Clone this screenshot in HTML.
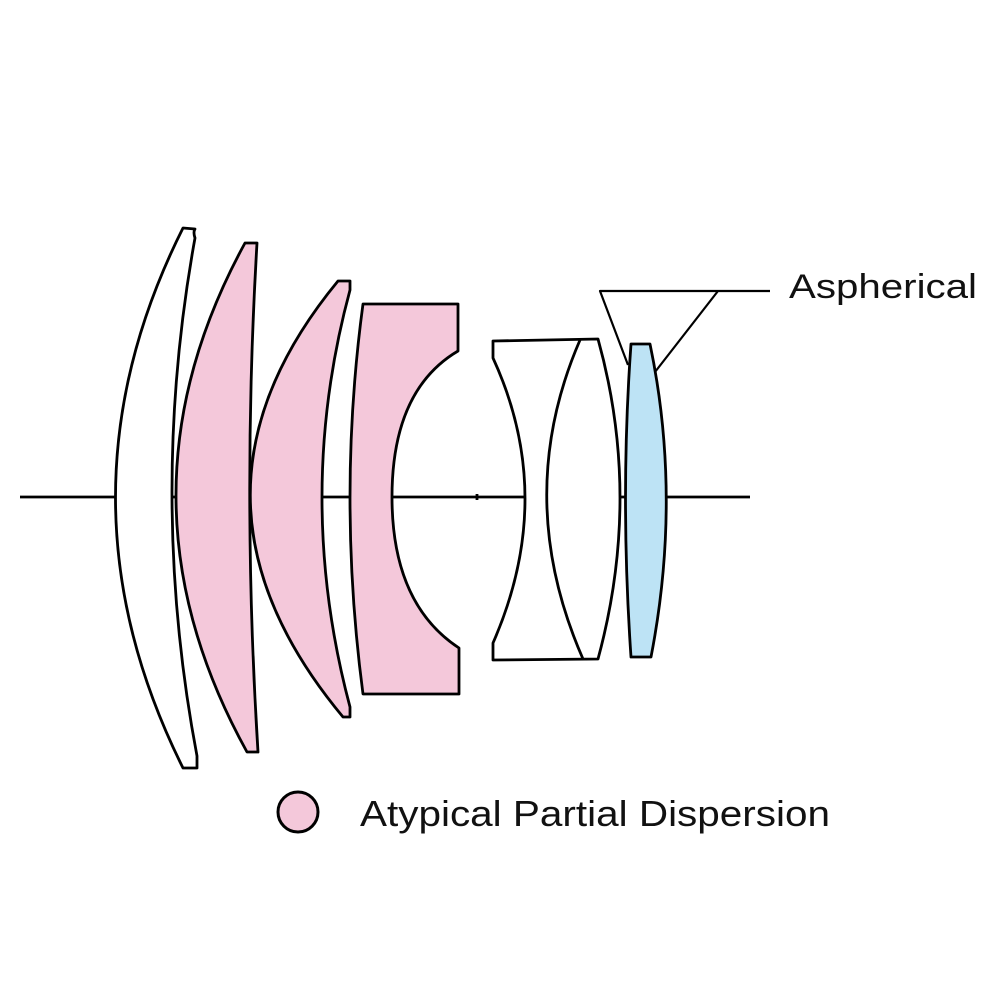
<!DOCTYPE html>
<html><head><meta charset="utf-8"><style>html,body{margin:0;padding:0;background:#fff}svg{display:block}</style></head>
<body>
<svg width="1000" height="1000" viewBox="0 0 1000 1000" xmlns="http://www.w3.org/2000/svg">
<g stroke="#000" stroke-width="2.8" stroke-linejoin="round" fill="none">
<line x1="20" y1="497" x2="750" y2="497"/>
<line x1="477" y1="494" x2="477" y2="500"/>
<!-- lens1 -->
<path fill="#fff" d="M183,228 L195,229 Q193,232 195,238 Q148,497 197,756 L197,768 L183,768 Q48,497 183,228 Z"/>
<!-- lens2 -->
<path fill="#f4c8da" d="M245,243 L257,243 Q242,497 258,752 L247,752 Q106,497 245,243 Z"/>
<!-- lens3 -->
<path fill="#f4c8da" d="M338,281 L350,281 L350,290 Q294,497 350,707 L350,717 L343,717 Q160,497 338,281 Z"/>
<!-- lens4 -->
<path fill="#f4c8da" d="M363,304 L458,304 L458,351 Q392,390 392,497 Q392,604 459,648 L459,694 L363,694 Q337,497 363,304 Z"/>
<!-- concave lens + cemented -->
<path fill="#fff" d="M493,341 L598,339 Q642,497 598,659 L493,660 L493,643 Q557,497 493,358 Z"/>
<path d="M580,340 Q512,497 583,659"/>
<!-- blue lens -->
<path fill="#bde3f5" d="M631,344 L650,344 Q682,497 651,657 L631,657 Q620,497 631,344 Z"/>
<!-- leader -->
<path d="M770,291 L600,291 L628,365 M718,291 L655,372" stroke-width="2.2"/>
<circle cx="298" cy="812" r="20" fill="#f4c8da" stroke-width="3"/>
</g>
<text x="789" y="298" font-family="Liberation Sans, sans-serif" font-size="34" fill="#111" textLength="188" lengthAdjust="spacingAndGlyphs">Aspherical</text>
<text x="360" y="826" font-family="Liberation Sans, sans-serif" font-size="36" fill="#111" textLength="470" lengthAdjust="spacingAndGlyphs">Atypical Partial Dispersion</text>
</svg>
</body></html>
